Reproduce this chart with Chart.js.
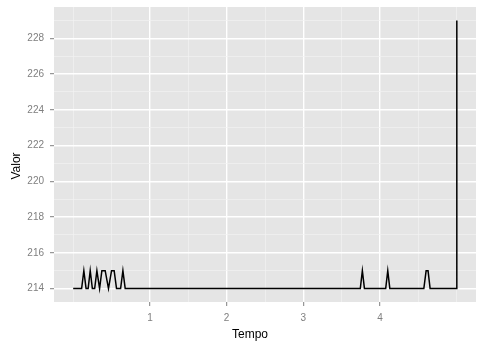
<!DOCTYPE html>
<html>
<head>
<meta charset="utf-8">
<script src="https://cdn.jsdelivr.net/npm/chart.js@4"></script>
<style>
  body { margin: 0; background: #fff; }
</style>
</head>
<body>
<canvas id="chart" width="482" height="345"></canvas>
<script>
// readings: Tempo (x) and Valor (y)
const tempo = [0, 0.11, 0.139, 0.168, 0.195, 0.222, 0.25, 0.28, 0.309, 0.344, 0.374, 0.417, 0.46, 0.5, 0.534, 0.565,
               0.618, 0.648, 0.678, 3.742, 3.769, 3.796, 4.073, 4.1, 4.127, 4.57, 4.6, 4.625, 4.652, 4.995, 5];
const valor = [214, 214, 215, 214, 214, 215, 214, 214, 215, 214, 215, 215, 214, 215, 215, 214,
               214, 215, 214, 214, 215, 214, 214, 215, 214, 214, 215, 215, 214, 214, 229];

// breaks (major ones get a label + tick mark)
const xMajor = [1, 2, 3, 4];
const xMinor = [0, 0.5, 1.5, 2.5, 3.5, 4.5, 5];
const yMajor = [214, 216, 218, 220, 222, 224, 226, 228];
const yMinor = [215, 217, 219, 221, 223, 225, 227, 229];

const xLim = [-0.25, 5.25];
const yLim = [213.25, 229.75];

const GREY = '#7F7F7F';
const FONT = '"Liberation Sans", Arial, sans-serif';

function buildTicks(major, minor) {
  return scale => {
    scale.ticks = major.concat(minor).sort((a, b) => a - b).map(v => ({value: v}));
  };
}

function gridFor(major) {
  const isMajor = c => c.tick && major.includes(c.tick.value);
  return {
    color: c => isMajor(c) ? '#FFFFFF' : '#F2F2F2',
    lineWidth: c => isMajor(c) ? 1.4 : 0.7,
    tickColor: c => isMajor(c) ? GREY : 'rgba(0,0,0,0)',
    tickWidth: 1,
    tickLength: 4
  };
}

// grey panel behind the grid
const panelBg = {
  id: 'panelBg',
  beforeDraw(chart) {
    const {ctx, chartArea: a} = chart;
    ctx.save();
    ctx.fillStyle = '#E5E5E5';
    ctx.fillRect(a.left, a.top, a.right - a.left, a.bottom - a.top);
    ctx.restore();
  }
};

// axis titles, centred like the old ggplot layout
const axisTitles = {
  id: 'axisTitles',
  afterDraw(chart) {
    const {ctx} = chart;
    ctx.save();
    ctx.fillStyle = '#000';
    ctx.font = '12px ' + FONT;
    ctx.textAlign = 'center';
    ctx.textBaseline = 'middle';
    ctx.fillText('Tempo', 250, 335);
    ctx.translate(17, 166);
    ctx.rotate(-Math.PI / 2);
    ctx.fillText('Valor', 0, 0);
    ctx.restore();
  }
};

new Chart(document.getElementById('chart'), {
  type: 'line',
  data: {
    datasets: [{
      data: tempo.map((t, i) => ({x: t, y: valor[i]})),
      borderColor: '#000000',
      borderWidth: 1.5,
      borderJoinStyle: 'miter',
      pointRadius: 0,
      tension: 0,
      fill: false
    }]
  },
  options: {
    responsive: false,
    animation: false,
    layout: { padding: {top: 7, right: 6, left: 0, bottom: 0} },
    plugins: { legend: {display: false}, tooltip: {enabled: false} },
    scales: {
      x: {
        type: 'linear',
        min: xLim[0],
        max: xLim[1],
        afterBuildTicks: buildTicks(xMajor, xMinor),
        afterFit: s => { s.height = 43; s.paddingLeft = 0; s.paddingRight = 0; },
        border: {display: false},
        grid: gridFor(xMajor),
        ticks: {
          autoSkip: false,
          maxRotation: 0,
          padding: 6,
          color: GREY,
          font: {family: FONT, size: 10},
          callback: v => xMajor.includes(v) ? String(v) : ''
        }
      },
      y: {
        type: 'linear',
        min: yLim[0],
        max: yLim[1],
        afterBuildTicks: buildTicks(yMajor, yMinor),
        afterFit: s => { s.width = 54; s.paddingTop = 0; s.paddingBottom = 0; },
        border: {display: false},
        grid: gridFor(yMajor),
        ticks: {
          autoSkip: false,
          padding: 6,
          color: GREY,
          font: {family: FONT, size: 10},
          callback: v => yMajor.includes(v) ? String(v) : ''
        }
      }
    }
  },
  plugins: [panelBg, axisTitles]
});
</script>
</body>
</html>
